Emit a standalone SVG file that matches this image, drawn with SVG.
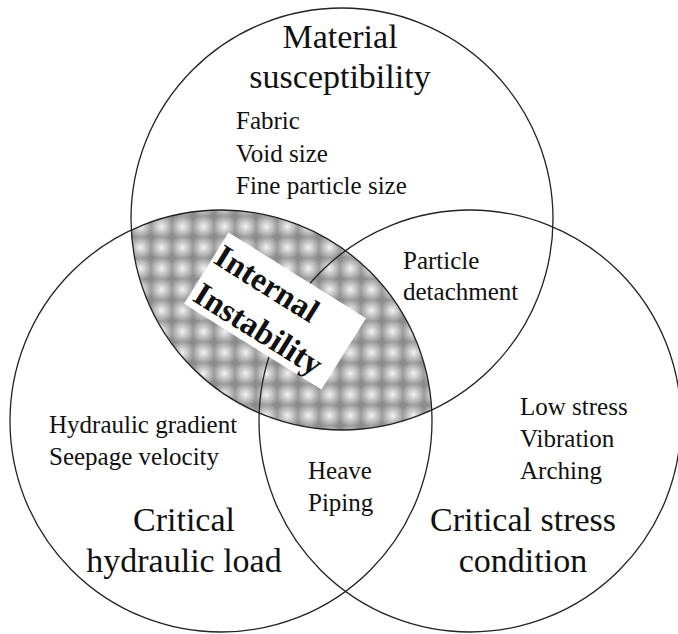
<svg xmlns="http://www.w3.org/2000/svg" width="678" height="634" viewBox="0 0 678 634">
  <style>
    .ring { fill: none; stroke: #222; stroke-width: 1.3; }
    .t { font-family: "Liberation Serif", "Times New Roman", serif; fill: #111; }
    .big { font-size: 34px; }
    .small { font-size: 25px; }
    .bold { font-size: 33px; font-weight: bold; }
  </style>
  <defs>
    <radialGradient id="spot" cx="0.5" cy="0.5" r="0.6">
      <stop offset="0" stop-color="#f2f2f2"/>
      <stop offset="0.45" stop-color="#c4c4c4"/>
      <stop offset="1" stop-color="#8c8c8c"/>
    </radialGradient>
    <pattern id="halftone" patternUnits="userSpaceOnUse" width="21" height="21" x="4" y="6">
      <rect width="21" height="21" fill="url(#spot)"/>
    </pattern>
    <clipPath id="topClip">
      <circle cx="342" cy="219" r="211"/>
    </clipPath>
  </defs>
  <rect width="678" height="634" fill="#fff"/>

  <g id="lens-internal-instability">
    <circle cx="221" cy="421" r="211" fill="url(#halftone)" clip-path="url(#topClip)"/>
  </g>

  <g id="circle-material">
    <circle class="ring" cx="342" cy="219" r="211"/>
  </g>
  <g id="circle-hydraulic">
    <circle class="ring" cx="221" cy="421" r="211"/>
  </g>
  <g id="circle-stress">
    <circle class="ring" cx="470" cy="421" r="211"/>
  </g>
  <g id="connectors"/>

  <g id="label-internal-instability" transform="translate(275,311) rotate(32)">
    <rect x="-81" y="-42" width="162" height="84" fill="#fff"/>
    <text class="t bold" x="-79" y="-8">Internal</text>
    <text class="t bold" x="-77" y="35">Instability</text>
  </g>

  <g id="labels-material">
    <text class="t big" x="340" y="48" text-anchor="middle">Material</text>
    <text class="t big" x="340" y="88" text-anchor="middle">susceptibility</text>
    <text class="t small" x="236" y="129">Fabric</text>
    <text class="t small" x="236" y="162">Void size</text>
    <text class="t small" x="236" y="194">Fine particle size</text>
  </g>
  <g id="labels-detachment">
    <text class="t small" x="403" y="269">Particle</text>
    <text class="t small" x="403" y="300">detachment</text>
  </g>
  <g id="labels-stress">
    <text class="t small" x="520" y="415">Low stress</text>
    <text class="t small" x="520" y="447">Vibration</text>
    <text class="t small" x="520" y="479">Arching</text>
    <text class="t big" x="523" y="531" text-anchor="middle">Critical stress</text>
    <text class="t big" x="523" y="572" text-anchor="middle">condition</text>
  </g>
  <g id="labels-hydraulic">
    <text class="t small" x="49" y="433">Hydraulic gradient</text>
    <text class="t small" x="49" y="465">Seepage velocity</text>
    <text class="t big" x="184" y="531" text-anchor="middle">Critical</text>
    <text class="t big" x="184" y="572" text-anchor="middle">hydraulic load</text>
  </g>
  <g id="labels-heave">
    <text class="t small" x="308" y="479">Heave</text>
    <text class="t small" x="308" y="511">Piping</text>
  </g>
</svg>
